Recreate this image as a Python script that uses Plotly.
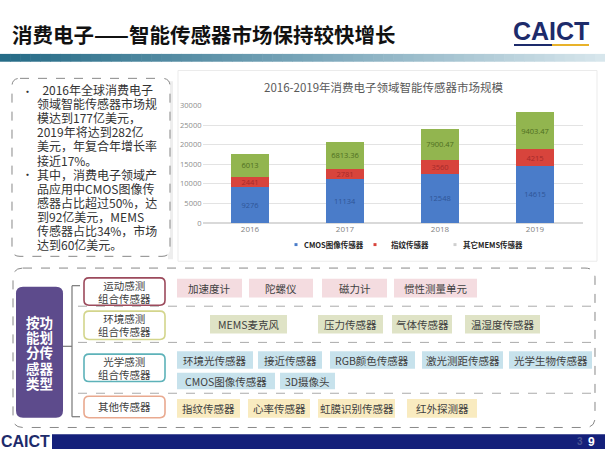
import plotly.graph_objects as go

W, H = 605, 454
CJK = "Noto Sans CJK SC"

# ---------------- data ----------------
years = ["2016", "2017", "2018", "2019"]
series_names = ["CMOS图像传感器", "指纹传感器", "其它MEMS传感器"]
cmos = [9276, 11134, 12548, 14615]
finger = [2441, 2781, 3560, 4215]
other_mems = [6013, 6813.36, 7900.47, 9403.47]
label_cmos = ["9276", "11134", "12548", "14615"]
label_finger = ["2441", "2781", "3560", "4215"]
label_other = ["6013", "6813.36", "7900.47", "9403.47"]
y_ticks = [0, 5000, 10000, 15000, 20000, 25000, 30000]

title_text = "消费电子——智能传感器市场保持较快增长"
chart_title = "2016-2019年消费电子领域智能传感器市场规模"
left_lines = [
    (True, "\u00a0\u00a02016年全球消费电子"),
    (False, "领域智能传感器市场规"),
    (False, "模达到177亿美元，"),
    (False, "2019年将达到282亿"),
    (False, "美元，年复合年增长率"),
    (False, "接近17%。"),
    (True, "其中，消费电子领域产"),
    (False, "品应用中CMOS图像传"),
    (False, "感器占比超过50%，达"),
    (False, "到92亿美元，MEMS"),
    (False, "传感器占比34%，市场"),
    (False, "达到60亿美元。"),
]
side_label = ["按功", "能划", "分传", "感器", "类型"]
groups = ["运动感测\n组合传感器", "环境感测\n组合传感器", "光学感测\n组合传感器", "其他传感器"]
group_items = [
    ["加速度计", "陀螺仪", "磁力计", "惯性测量单元"],
    ["MEMS麦克风", "压力传感器", "气体传感器", "温湿度传感器"],
    ["环境光传感器", "接近传感器", "RGB颜色传感器", "激光测距传感器", "光学生物传感器",
     "CMOS图像传感器", "3D摄像头"],
    ["指纹传感器", "心率传感器", "虹膜识别传感器", "红外探测器"],
]

# ---------------- helpers (pixel -> paper) ----------------
def X(x):
    return x / W


def Y(y):
    return 1 - y / H


shapes = []
annos = []


def rect(x0, y0, x1, y1, fill=None, line=None, lw=1, dash=None, layer="below"):
    d = dict(type="rect", xref="paper", yref="paper", x0=X(x0), x1=X(x1), y0=Y(y1), y1=Y(y0),
             fillcolor=fill or "rgba(0,0,0,0)", layer=layer,
             line=dict(color=line or "rgba(0,0,0,0)", width=lw if line else 0))
    if dash:
        d["line"]["dash"] = dash
    shapes.append(d)


def rrect(x0, y0, x1, y1, r, fill=None, line=None, lw=1, dash=None, layer="below"):
    def p(x, y):
        return f"{X(x):.5f},{Y(y):.5f}"
    path = (f"M {p(x0 + r, y0)} L {p(x1 - r, y0)} Q {p(x1, y0)} {p(x1, y0 + r)} "
            f"L {p(x1, y1 - r)} Q {p(x1, y1)} {p(x1 - r, y1)} "
            f"L {p(x0 + r, y1)} Q {p(x0, y1)} {p(x0, y1 - r)} "
            f"L {p(x0, y0 + r)} Q {p(x0, y0)} {p(x0 + r, y0)} Z")
    d = dict(type="path", xref="paper", yref="paper", path=path,
             fillcolor=fill or "rgba(0,0,0,0)", layer=layer,
             line=dict(color=line or "rgba(0,0,0,0)", width=lw if line else 0))
    if dash:
        d["line"]["dash"] = dash
    shapes.append(d)


def hline(x0, x1, y, color, lw=1, dash=None):
    d = dict(type="line", xref="paper", yref="paper", x0=X(x0), x1=X(x1), y0=Y(y), y1=Y(y),
             line=dict(color=color, width=lw), layer="below")
    if dash:
        d["line"]["dash"] = dash
    shapes.append(d)


def vline(x, y0, y1, color, lw=1, dash=None):
    d = dict(type="line", xref="paper", yref="paper", x0=X(x), x1=X(x), y0=Y(y0), y1=Y(y1),
             line=dict(color=color, width=lw), layer="below")
    if dash:
        d["line"]["dash"] = dash
    shapes.append(d)


def text(x, y, s, size=11, color="#333333", anchor="left", bold=False, family=CJK):
    if bold:
        s = f"<b>{s}</b>"
    annos.append(dict(xref="paper", yref="paper", x=X(x), y=Y(y), text=s, showarrow=False,
                      xanchor=anchor, yanchor="middle", borderpad=0,
                      font=dict(size=size, color=color, family=family)))


def multiline(x, ycenter, lines, spacing, glyph, color="#333333", anchor="left", bold=False,
              family=CJK):
    # one text block; line pitch set by the outer font size, glyph size by an inner span
    outer = spacing / 1.3
    body = "<br>".join(f"<span style='font-size:{glyph}px'>{s}</span>" for s in lines)
    if bold:
        body = f"<b>{body}</b>"
    annos.append(dict(xref="paper", yref="paper", x=X(x), y=Y(ycenter), text=body,
                      showarrow=False, xanchor=anchor, yanchor="middle", align=anchor,
                      borderpad=0, font=dict(size=outer, color=color, family=family)))


# ---------------- header ----------------
text(11, 30, title_text, size=20.5, color="#111111", bold=True)
text(551, 27, "CAICT", size=25, color="#1d2b6b", anchor="center", bold=True,
     family="Liberation Sans Narrow, Liberation Sans")
hline(514, 552, 41, "#1d2b6b", 2)
hline(552, 589, 41, "#e8b22a", 2)

# gradient band
c0 = (38, 108, 135)
c1 = (120, 165, 185)
c2 = (215, 230, 236)
N = 60
for i in range(N):
    t = i / (N - 1)
    if t < 0.5:
        a, b, u = c0, c1, t / 0.5
    else:
        a, b, u = c1, c2, (t - 0.5) / 0.5
    col = tuple(int(a[k] + (b[k] - a[k]) * u) for k in range(3))
    rect(W * i / N, 50, W * (i + 1) / N + 0.6, 58, fill=f"rgb{col}")

# ---------------- left text box ----------------
rect(168, 78, 173, 260, fill="#eeeeee")
rrect(12, 75, 170, 257, 8, fill="white", line="#888888", lw=1, dash="dash")
pitch = 14.1
for i, (bul, s) in enumerate(left_lines):
    if bul:
        text(21, 88 + i * pitch, "•", size=11, color="#333333")
multiline(36, 88 + 5.5 * pitch, [s for _, s in left_lines], pitch, 12, color="#333333")

# ---------------- chart box ----------------
rect(178, 67, 597, 262, fill="white", line="#ebebeb", lw=1)
text(384, 84, chart_title, size=11.5, color="#595959", anchor="center")

colors = ["#4a7cc9", "#d8443c", "#92b54f"]
label_colors = ["#2f5597", "#a52a2a", "#4e6e1f"]
vals = [cmos, finger, other_mems]
labs = [label_cmos, label_finger, label_other]

fig = go.Figure()
for k in range(3):
    fig.add_trace(go.Bar(
        x=years, y=vals[k], name=series_names[k], marker=dict(color=colors[k], line=dict(width=0)),
        text=labs[k], textposition="inside", insidetextanchor="middle", constraintext="none",
        textangle=0, textfont=dict(size=7.5, color=label_colors[k], family="Open Sans"),
        hoverinfo="skip"))

# legend (custom)
leg_x = [296, 375, 455]
leg_tx = [303, 390, 462]
for k in range(3):
    rect(leg_x[k] - 1.5, 243.5, leg_x[k] + 1.5, 246.5, fill=colors[k] if k < 2 else "#cfcfcf")
    text(leg_tx[k], 245, series_names[k], size=7.5, color="#262626", bold=True)

# ---------------- bottom panel ----------------
rrect(13, 269, 595, 432, 10, fill="white", line="#888888", lw=1, dash="dash")
for yy in [308, 345, 397]:
    hline(78, 593, yy, "#aaaaaa", 1, dash="dash")

# purple side label
rrect(16, 288, 63, 422, 7, fill="#5d4b8c")
multiline(39.5, 355.5, side_label, 15.2, 13.5, color="white", anchor="center", bold=True)

# bracket
vline(72, 287, 421, "#777777", 1.2)
hline(72, 80, 287, "#777777", 1.2)
hline(72, 80, 421, "#777777", 1.2)
hline(63, 72, 349, "#777777", 1.2)

group_box = [(279, 307), (313, 342), (357, 385), (400, 422)]
group_border = ["#9c4a5c", "#d3d58c", "#5db2b9", "#e9a98f"]
item_fill = ["#f4dce0", "#dfe3c6", "#c7e2ec", "#f9ebc0"]
item_pos = [
    [(177, 242, 280, 299), (249, 313, 280, 299), (322, 387, 280, 299), (394, 477, 280, 299)],
    [(210, 287, 317, 336), (318, 383, 317, 336), (392, 452, 317, 336), (465, 540, 317, 336)],
    [(177, 253, 354, 372), (258, 322, 354, 372), (330, 415, 354, 372), (422, 503, 354, 372),
     (509, 592, 354, 372), (177, 275, 376, 393), (280, 335, 376, 393)],
    [(177, 240, 403, 422), (248, 310, 403, 422), (318, 395, 403, 422), (407, 477, 403, 422)],
]
for g in range(4):
    y0, y1 = group_box[g]
    rrect(84, y0, 165, y1, 5, fill="white", line=group_border[g], lw=1.6)
    parts = groups[g].split("\n")
    if len(parts) == 2:
        multiline(124.5, (y0 + y1) / 2, parts, 12.6, 10.5, color="#404040", anchor="center")
    else:
        text(124.5, (y0 + y1) / 2, parts[0], size=10.5, color="#404040", anchor="center")
    for name, (a, b, c, d) in zip(group_items[g], item_pos[g]):
        rect(a, c, b, d, fill=item_fill[g])
        text((a + b) / 2, (c + d) / 2, name, size=10.5, color="#404040", anchor="center")

# ---------------- footer ----------------
rect(52, 439, 605, 454, fill="#14207a")
text(25, 446.5, "CAICT", size=16, color="#1d2b6b", anchor="center", bold=True,
     family="Liberation Sans Narrow, Liberation Sans")
text(580, 446.5, "3", size=10, color="#4a5592", anchor="center", bold=True, family="Liberation Sans")
text(591, 446.5, "9", size=12, color="white", anchor="center", bold=True, family="Liberation Sans")

fig.update_layout(
    width=W, height=H, margin=dict(l=0, r=0, t=0, b=0),
    paper_bgcolor="white", plot_bgcolor="rgba(0,0,0,0)",
    barmode="stack", bargap=0.61, showlegend=False,
    shapes=shapes, annotations=annos,
    xaxis=dict(domain=[X(202.5), X(582.5)], showgrid=False, showline=False, ticks="",
               tickfont=dict(size=8, color="#7f7f7f", family="Open Sans"), fixedrange=True),
    yaxis=dict(domain=[Y(223), Y(102.7)], range=[0, 30000], tickvals=y_ticks,
               ticktext=[str(v) for v in y_ticks],
               showgrid=True, gridcolor="#e3e3e3", gridwidth=1, zeroline=True,
               zerolinecolor="#d9d9d9", showline=False, ticks="",
               tickfont=dict(size=7.5, color="#8c8c8c", family="Open Sans"), fixedrange=True),
)

fig.write_html("out.html")
